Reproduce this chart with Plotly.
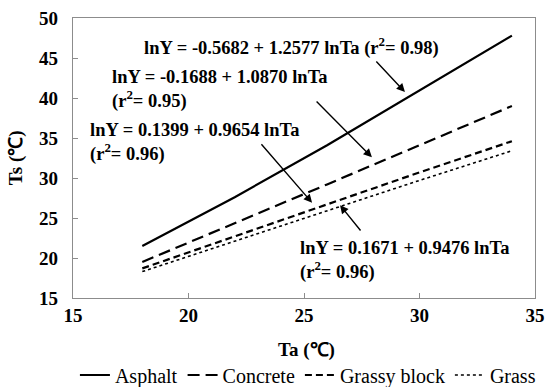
import plotly.graph_objects as go

ta = [18, 22, 26, 30, 34]
asphalt = [21.5, 27.6, 34.1, 40.9, 47.8]
concrete = [19.5, 24.3, 29.2, 34.1, 39.0]
grassy_block = [18.7, 22.7, 26.7, 30.7, 34.6]
grass = [18.3, 22.1, 25.9, 29.7, 33.4]

series_names = ["Asphalt", "Concrete", "Grassy block", "Grass"]
x_ticks = [15, 20, 25, 30, 35]
y_ticks = [15, 20, 25, 30, 35, 40, 45, 50]
x_title = "Ta (℃)"
y_title = "Ts (℃)"

SERIF = "Liberation Serif"

fig = go.Figure()
styles = [
    (asphalt, "solid", 2.2),
    (concrete, "12px,6px", 2.2),
    (grassy_block, "7px,4px", 2.2),
    (grass, "dot", 1.6),
]
for name, (ys, dash, w) in zip(series_names, styles):
    fig.add_trace(go.Scatter(x=ta, y=ys, mode="lines", name=name,
                             line=dict(color="black", dash=dash, width=w)))

eqs = [
    ("<b>lnY = -0.5682 + 1.2577 lnTa (r<sup>2</sup>= 0.98)</b>", 24.44, 46.5, "center", (28.07, 44.75), (29.37, 40.75)),
    ("<b>lnY = -0.1688 + 1.0870 lnTa<br>(r<sup>2</sup>= 0.95)</b>", 16.6, 41.1, "left", (25.48, 39.75), (27.94, 32.6)),
    ("<b>lnY = 0.1399 + 0.9654 lnTa<br>(r<sup>2</sup>= 0.96)</b>", 15.65, 34.5, "left", (23.1, 34.4), (25.35, 26.9)),
    ("<b>lnY = 0.1671 + 0.9476 lnTa<br>(r<sup>2</sup>= 0.96)</b>", 24.74, 19.75, "left", (27.5, 23.25), (26.56, 26.6)),
]
for text, x, y, align, tail, head in eqs:
    fig.add_annotation(x=x, y=y, xref="x", yref="y", text=text, showarrow=False,
                       xanchor="center" if align == "center" else "left",
                       yanchor="middle", align=align,
                       font=dict(family=SERIF, size=18.5, color="black"))
    fig.add_annotation(x=head[0], y=head[1], ax=tail[0], ay=tail[1],
                       xref="x", yref="y", axref="x", ayref="y", text="",
                       showarrow=True, arrowhead=2, arrowsize=1.2, arrowwidth=1.4,
                       arrowcolor="black")

# axis titles
fig.add_annotation(x=0.505, y=-0.186, xref="paper", yref="paper", text=f"<b>{x_title}</b>",
                   showarrow=False, xanchor="center", yanchor="middle",
                   font=dict(family=SERIF, size=19, color="black"))
fig.add_annotation(x=-0.123, y=0.5, xref="paper", yref="paper", text=f"<b>{y_title}</b>",
                   showarrow=False, xanchor="center", yanchor="middle", textangle=-90,
                   font=dict(family=SERIF, size=19, color="black"))

axis_common = dict(showline=True, linecolor="#8c8c8c", linewidth=1.2, mirror=True,
                   ticks="inside", ticklen=5, tickcolor="#8c8c8c", showgrid=False,
                   zeroline=False, automargin=False,
                   tickfont=dict(family=SERIF, size=19, color="black", weight="bold"))

fig.update_layout(
    width=545, height=387,
    margin=dict(l=73, r=10, t=18, b=89),
    paper_bgcolor="white", plot_bgcolor="white",
    font=dict(family=SERIF),
    xaxis=dict(range=[15, 35], tickvals=x_ticks, ticklabelstandoff=0, **axis_common),
    yaxis=dict(range=[15, 50], tickvals=y_ticks, ticklabelstandoff=10, **axis_common),
    legend=dict(orientation="h", xref="container", yref="container",
                x=0.565, xanchor="center", y=0.031, yanchor="middle",
                font=dict(family=SERIF, size=20, color="black"), itemwidth=30,
                tracegroupgap=0, bgcolor="rgba(0,0,0,0)"),
    showlegend=True,
)

fig.write_html("out.html", config={"displayModeBar": False},
               post_script="document.body.style.margin='0px';")
